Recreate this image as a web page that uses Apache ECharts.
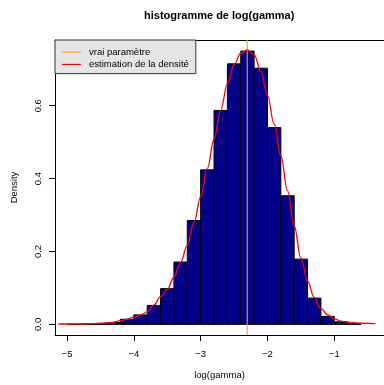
<!DOCTYPE html>
<html>
<head>
<meta charset="utf-8">
<script src="https://cdn.jsdelivr.net/npm/echarts@6/dist/echarts.min.js"></script>
<style>
  html, body { margin: 0; padding: 0; background: #ffffff; }
  #chart { width: 384px; height: 385px; }
</style>
</head>
<body>
<div id="chart"></div>
<script>
// Histogram bins of log(gamma): left edge, right edge, density
const binLeft = [-5.0, -4.8, -4.6, -4.4, -4.2, -4.0, -3.8, -3.6, -3.4, -3.2, -3.0, -2.8, -2.6, -2.4, -2.2, -2.0, -1.8, -1.6, -1.4, -1.2, -1.0, -0.8];
const binRight = [-4.8, -4.6, -4.4, -4.2, -4.0, -3.8, -3.6, -3.4, -3.2, -3.0, -2.8, -2.6, -2.4, -2.2, -2.0, -1.8, -1.6, -1.4, -1.2, -1.0, -0.8, -0.6];
const binDensity = [0.000, 0.001, 0.002, 0.005, 0.014, 0.026, 0.052, 0.098, 0.171, 0.285, 0.424, 0.587, 0.715, 0.750, 0.703, 0.540, 0.353, 0.179, 0.072, 0.022, 0.007, 0.002];

// Kernel density estimate
const densityX = [-5.13, -5.0, -4.8, -4.6, -4.4, -4.3, -4.2, -4.1, -4.0, -3.9, -3.8, -3.7, -3.6, -3.5, -3.4, -3.3, -3.2, -3.1, -3.0, -2.9, -2.8, -2.7, -2.6, -2.5, -2.4, -2.3, -2.2, -2.1, -2.0, -1.9, -1.8, -1.7, -1.6, -1.5, -1.4, -1.3, -1.2, -1.1, -1.0, -0.9, -0.8, -0.6, -0.385];
const densityY = [0.001, 0.001, 0.001, 0.002, 0.004, 0.006, 0.010, 0.014, 0.020, 0.026, 0.034, 0.053, 0.076, 0.096, 0.130, 0.170, 0.217, 0.280, 0.350, 0.428, 0.508, 0.588, 0.660, 0.712, 0.744, 0.753, 0.740, 0.695, 0.628, 0.550, 0.463, 0.367, 0.270, 0.183, 0.119, 0.074, 0.044, 0.026, 0.015, 0.009, 0.006, 0.003, 0.002];

// True parameter value, log(0.1)
const trueParam = -2.3026;

const xTicks = [-5, -4, -3, -2, -1];
const yTicks = [0, 0.2, 0.4, 0.6];
const xRange = [-5.18, -0.256];
const yRange = [-0.0292, 0.7804];

const FONT = 'Liberation Sans, Arial, Helvetica, sans-serif';

const histData = binLeft.map((l, i) => [l, binRight[i], binDensity[i]]);
const densityData = densityX.map((x, i) => [x, densityY[i]]);

const chart = echarts.init(document.getElementById('chart'), null, { renderer: 'canvas' });

const fmtMinus = v => (v < 0 ? '\u2212' + Math.abs(v) : String(v));
const frameLine = { show: true, onZero: false, lineStyle: { color: '#000', width: 1 } };

chart.setOption({
  animation: false,
  backgroundColor: '#ffffff',
  title: {
    text: 'histogramme de log(gamma)',
    left: 144,
    top: 10,
    padding: 0,
    textStyle: { fontFamily: FONT, fontSize: 11, fontWeight: 'bold', color: '#000' }
  },
  legend: {
    left: 55,
    top: 40,
    orient: 'vertical',
    selectedMode: false,
    backgroundColor: '#E5E5E5',
    borderColor: '#333',
    borderWidth: 1,
    borderRadius: 0,
    padding: [6, 7, 3, 7],
    itemGap: 0,
    itemWidth: 19,
    itemHeight: 1.2,
    textStyle: { fontFamily: FONT, fontSize: 9.5, color: '#000', lineHeight: 12.3, padding: [0, 0, 0, 3] },
    data: [
      { name: 'vrai paramètre', icon: 'rect' },
      { name: 'estimation de la densité', icon: 'rect' }
    ]
  },
  grid: { left: 55, top: 40, right: 0, bottom: 48, show: false },
  xAxis: [
    {
      type: 'value',
      position: 'bottom',
      min: xRange[0], max: xRange[1],
      axisLine: frameLine,
      splitLine: { show: false },
      axisTick: { show: true, length: 6, lineStyle: { color: '#000', width: 1 }, customValues: xTicks },
      axisLabel: { customValues: xTicks, formatter: fmtMinus, margin: 14, fontFamily: FONT, fontSize: 9.5, color: '#000' },
      name: 'log(gamma)',
      nameLocation: 'middle',
      nameGap: 35,
      nameTextStyle: { fontFamily: FONT, fontSize: 9.5, color: '#000' }
    },
    {
      type: 'value',
      position: 'top',
      min: xRange[0], max: xRange[1],
      axisLine: frameLine,
      splitLine: { show: false },
      axisTick: { show: false },
      axisLabel: { show: false }
    }
  ],
  yAxis: {
    type: 'value',
    min: yRange[0], max: yRange[1],
    axisLine: frameLine,
    splitLine: { show: false },
    axisTick: { show: true, length: 6, lineStyle: { color: '#000', width: 1 }, customValues: yTicks },
    axisLabel: { customValues: yTicks, formatter: v => v.toFixed(1), rotate: 90, margin: 12, fontFamily: FONT, fontSize: 9.5, color: '#000' },
    name: 'Density',
    nameLocation: 'middle',
    nameGap: 36,
    nameTextStyle: { fontFamily: FONT, fontSize: 9.5, color: '#000' }
  },
  series: [
    {
      name: 'histogramme',
      type: 'custom',
      data: histData,
      encode: { x: [0, 1], y: 2 },
      clip: true,
      z: 2,
      renderItem: function (params, api) {
        const p0 = api.coord([api.value(0), 0]);
        const p1 = api.coord([api.value(1), api.value(2)]);
        return {
          type: 'rect',
          shape: { x: p0[0], y: p1[1], width: p1[0] - p0[0], height: p0[1] - p1[1] },
          style: { fill: '#00008B', stroke: '#000', lineWidth: 1 }
        };
      }
    },
    {
      name: 'vrai paramètre',
      type: 'line',
      data: [[trueParam, yRange[0]], [trueParam, yRange[1]]],
      symbol: 'none',
      z: 3,
      lineStyle: { color: '#FF9A1A', width: 1.1 },
      itemStyle: { color: '#FF9A1A' }
    },
    {
      name: 'estimation de la densité',
      type: 'line',
      data: densityData,
      symbol: 'none',
      smooth: 0.4,
      smoothMonotone: 'x',
      z: 4,
      lineStyle: { color: '#FF0000', width: 1.3 },
      itemStyle: { color: '#FF0000' }
    }
  ]
});
</script>
</body>
</html>
